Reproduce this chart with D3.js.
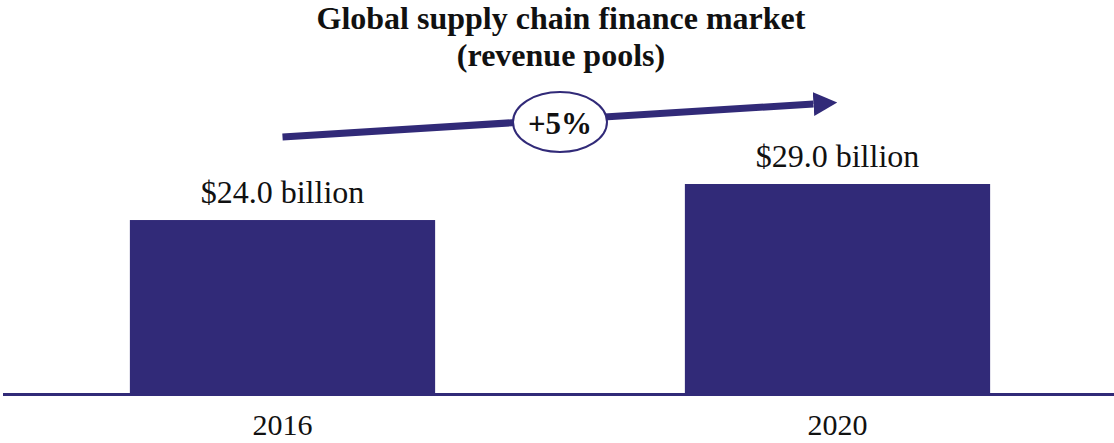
<!DOCTYPE html>
<html>
<head>
  <meta charset="utf-8">
  <title>Global supply chain finance market</title>
  <script src="https://d3js.org/d3.v7.min.js"></script>
  <style>
    body { margin: 0; background: #fff; }
    text { font-family: "Liberation Serif", "Times New Roman", serif; fill: #111; }
  </style>
</head>
<body>
  <script>
    var years = ["2016", "2020"];
    var revenue = [24.0, 29.0];
    var valueLabels = ["$24.0 billion", "$29.0 billion"];
    var growthLabel = "+5%";
    var titleLines = ["Global supply chain finance market", "(revenue pools)"];

    var w = 1114, h = 443;
    var navy = "#312a78";

    var svg = d3.select("body").append("svg").attr("width", w).attr("height", h);

    var x = d3.scaleBand().domain(years).range([5, 1115])
      .paddingInner(0.45).paddingOuter(0.225);
    var y = d3.scaleLinear().domain([0, 29]).range([393, 184]);

    var data = years.map(function (d, i) { return { year: d, value: revenue[i], label: valueLabels[i] }; });

    // title
    svg.selectAll("text.title").data(titleLines).enter().append("text")
      .attr("class", "title")
      .attr("x", 561)
      .attr("y", function (d, i) { return 29 + i * 37; })
      .attr("text-anchor", "middle")
      .attr("font-weight", "bold")
      .attr("font-size", "32px")
      .text(function (d) { return d; });

    // bars
    svg.selectAll("rect").data(data).enter().append("rect")
      .attr("x", function (d) { return x(d.year); })
      .attr("y", function (d) { return y(d.value); })
      .attr("width", x.bandwidth())
      .attr("height", function (d) { return y(0) - y(d.value); })
      .attr("fill", navy);

    // baseline
    svg.append("line")
      .attr("x1", 3).attr("x2", w)
      .attr("y1", y(0) + 1.5).attr("y2", y(0) + 1.5)
      .attr("stroke", navy).attr("stroke-width", 3);

    // value labels
    svg.selectAll("text.val").data(data).enter().append("text")
      .attr("class", "val")
      .attr("x", function (d) { return x(d.year) + x.bandwidth() / 2; })
      .attr("y", function (d) { return y(d.value) - 17; })
      .attr("text-anchor", "middle")
      .attr("font-size", "32px")
      .text(function (d) { return d.label; });

    // year labels
    svg.selectAll("text.year").data(data).enter().append("text")
      .attr("class", "year")
      .attr("x", function (d) { return x(d.year) + x.bandwidth() / 2; })
      .attr("y", 435)
      .attr("text-anchor", "middle")
      .attr("font-size", "30px")
      .text(function (d) { return d.year; });

    // growth arrow
    svg.append("defs").append("marker")
      .attr("id", "head")
      .attr("viewBox", "0 0 10 10")
      .attr("refX", 0).attr("refY", 5)
      .attr("markerWidth", 3.4).attr("markerHeight", 3.4)
      .attr("orient", "auto")
      .append("path").attr("d", "M0,0 L10,5 L0,10 Z").attr("fill", navy);

    var x0 = x(years[0]) + x.bandwidth() / 2, y0 = y(revenue[0]) - 83;
    var x1 = x(years[1]) + x.bandwidth() / 2 - 24, y1 = y(revenue[1]) - 80;
    svg.append("line")
      .attr("x1", x0).attr("y1", y0).attr("x2", x1).attr("y2", y1)
      .attr("stroke", navy).attr("stroke-width", 7)
      .attr("marker-end", "url(#head)");

    var cx = (x0 + x(years[1]) + x.bandwidth() / 2) / 2, cy = 122;
    svg.append("ellipse")
      .attr("cx", cx).attr("cy", cy).attr("rx", 47).attr("ry", 30)
      .attr("fill", "#fff").attr("stroke", navy).attr("stroke-width", 2);

    svg.append("text")
      .attr("x", cx).attr("y", cy + 12)
      .attr("text-anchor", "middle")
      .attr("font-weight", "bold")
      .attr("font-size", "31px")
      .text(growthLabel);
  </script>
</body>
</html>
